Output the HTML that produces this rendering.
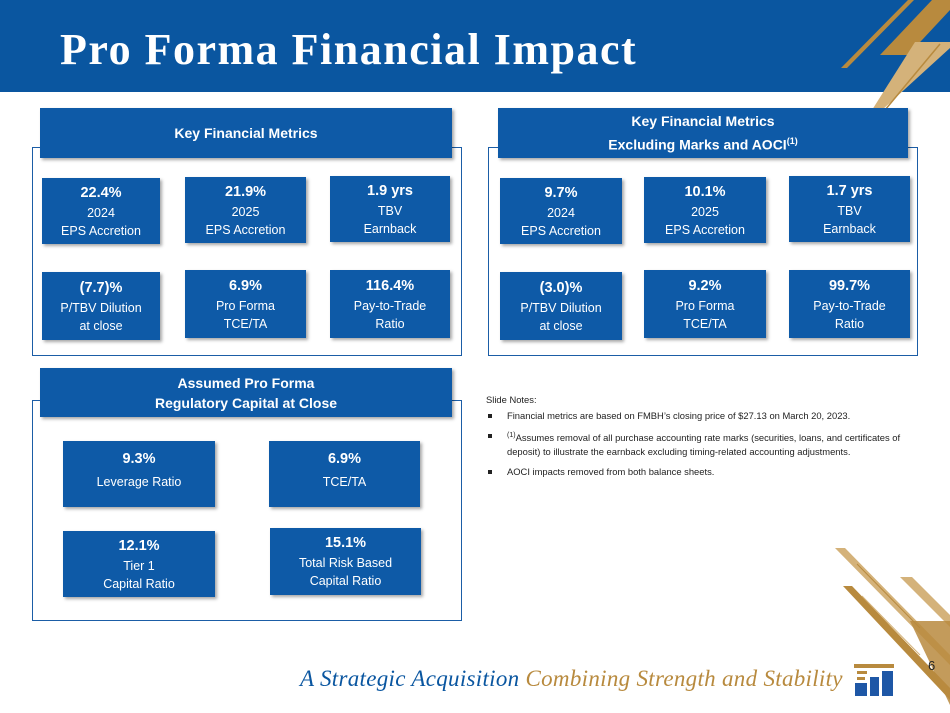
<!DOCTYPE html>
<html><head><meta charset="utf-8"><style>
body{margin:0;width:950px;height:713px;position:relative;overflow:hidden;background:#fff;font-family:"Liberation Sans",sans-serif}
.a{position:absolute}
.hdr{left:0;top:0;width:950px;height:92px;background:#0a56a0}
.title{left:60px;top:24px;color:#fff;font:bold 44px "Liberation Serif",serif;letter-spacing:1.5px}
.frame{border:1.5px solid #1b5da6;box-sizing:border-box}
.tab{background:#0e5aa7;color:#fff;font-weight:bold;font-size:14px;text-align:center;display:flex;align-items:center;justify-content:center;flex-direction:column;line-height:20px;box-shadow:2px 2px 3px rgba(0,0,0,.35)}
.box{background:#0e5aa7;color:#fff;text-align:center;display:flex;flex-direction:column;justify-content:center;font-size:12.5px;line-height:18px;box-shadow:2px 2px 3px rgba(0,0,0,.35)}
.box b{font-size:14.5px;line-height:21px}
.notes{left:486px;top:393px;font-size:9.4px;color:#222;line-height:14px;width:432px}
.notes p{margin:0 0 6px 0;padding-left:21px;position:relative}
.notes p:before{content:"";position:absolute;left:2px;top:5px;width:4px;height:4px;background:#222}
.foot{left:300px;top:666px;font:italic 23px "Liberation Serif",serif;color:#0a56a0;letter-spacing:0.3px}
</style></head><body>
<div class="a hdr"></div>
<svg class="a" style="left:0;top:0" width="950" height="713">
<polygon points="908,0 914,0 847,68 841,68" fill="#b88a3e"/>
<polygon points="932,0 950,0 950,10 908,55 880,55" fill="#b88a3e"/>
<polygon points="915,42 950,42 950,48 882,110 872,110" fill="#d4b27a"/>
<line x1="940" y1="44" x2="885" y2="110" stroke="#b88a3e" stroke-width="1.5"/>
<polygon points="835,548 845,548 950,655 950,665" fill="#d4b27a"/>
<polygon points="843,586 852,586 950,688 950,700" fill="#b88a3e"/>
<polygon points="900,577 912,577 950,615 950,627" fill="#d4b27a"/>
<polygon points="910,621 950,621 950,705" fill="#b88a3e" opacity=".85"/>
<line x1="857" y1="564" x2="920" y2="628" stroke="#b88a3e" stroke-width="1"/>
<line x1="862" y1="596" x2="920" y2="655" stroke="#d4b27a" stroke-width="1"/>
<text x="928" y="670" font-size="13" font-family="Liberation Sans" fill="#222">6</text>
<g><rect x="854" y="664" width="40" height="4" fill="#b88a3e"/><rect x="857" y="671" width="10" height="3" fill="#b88a3e"/><rect x="857" y="677" width="8" height="3" fill="#b88a3e"/><rect x="855" y="683" width="12" height="13" fill="#1e57a6"/><rect x="870" y="677" width="9" height="19" fill="#1e57a6"/><rect x="882" y="671" width="11" height="25" fill="#1e57a6"/></g>
</svg>
<div class="a title">Pro Forma Financial Impact</div>

<div class="a frame" style="left:32px;top:147px;width:430px;height:209px"></div>
<div class="a tab" style="left:40px;top:108px;width:412px;height:50px">Key Financial Metrics</div>
<div class="a box" style="left:42px;top:178px;width:118px;height:66px"><b>22.4%</b>2024<br>EPS Accretion</div>
<div class="a box" style="left:185px;top:177px;width:121px;height:66px"><b>21.9%</b>2025<br>EPS Accretion</div>
<div class="a box" style="left:330px;top:176px;width:120px;height:66px"><b>1.9 yrs</b>TBV<br>Earnback</div>
<div class="a box" style="left:42px;top:272px;width:118px;height:68px"><b>(7.7)%</b>P/TBV Dilution<br>at close</div>
<div class="a box" style="left:185px;top:270px;width:121px;height:68px"><b>6.9%</b>Pro Forma<br>TCE/TA</div>
<div class="a box" style="left:330px;top:270px;width:120px;height:68px"><b>116.4%</b>Pay-to-Trade<br>Ratio</div>

<div class="a frame" style="left:488px;top:147px;width:430px;height:209px"></div>
<div class="a tab" style="left:498px;top:108px;width:410px;height:50px">Key Financial Metrics<span>Excluding Marks and AOCI<sup style="font-size:9px">(1)</sup></span></div>
<div class="a box" style="left:500px;top:178px;width:122px;height:66px"><b>9.7%</b>2024<br>EPS Accretion</div>
<div class="a box" style="left:644px;top:177px;width:122px;height:66px"><b>10.1%</b>2025<br>EPS Accretion</div>
<div class="a box" style="left:789px;top:176px;width:121px;height:66px"><b>1.7 yrs</b>TBV<br>Earnback</div>
<div class="a box" style="left:500px;top:272px;width:122px;height:68px"><b>(3.0)%</b>P/TBV Dilution<br>at close</div>
<div class="a box" style="left:644px;top:270px;width:122px;height:68px"><b>9.2%</b>Pro Forma<br>TCE/TA</div>
<div class="a box" style="left:789px;top:270px;width:121px;height:68px"><b>99.7%</b>Pay-to-Trade<br>Ratio</div>

<div class="a frame" style="left:32px;top:400px;width:430px;height:221px"></div>
<div class="a tab" style="left:40px;top:368px;width:412px;height:49px">Assumed Pro Forma<br>Regulatory Capital at Close</div>
<div class="a box" style="left:63px;top:441px;width:152px;height:66px;justify-content:flex-start;padding-top:8px;box-sizing:border-box;line-height:24px"><b>9.3%</b>Leverage Ratio</div>
<div class="a box" style="left:269px;top:441px;width:151px;height:66px;justify-content:flex-start;padding-top:8px;box-sizing:border-box;line-height:24px"><b>6.9%</b>TCE/TA</div>
<div class="a box" style="left:63px;top:531px;width:152px;height:66px"><b>12.1%</b>Tier 1<br>Capital Ratio</div>
<div class="a box" style="left:270px;top:528px;width:151px;height:67px"><b>15.1%</b>Total Risk Based<br>Capital Ratio</div>

<div class="a notes">
<div style="margin-bottom:2px">Slide Notes:</div>
<p>Financial metrics are based on FMBH’s closing price of $27.13 on March 20, 2023.</p>
<p><sup style="font-size:7px">(1)</sup>Assumes removal of all purchase accounting rate marks (securities, loans, and certificates of deposit) to illustrate the earnback excluding timing-related accounting adjustments.</p>
<p>AOCI impacts removed from both balance sheets.</p>
</div>
<div class="a foot">A Strategic Acquisition <span style="color:#b88a3e">Combining Strength and Stability</span></div>
</body></html>
